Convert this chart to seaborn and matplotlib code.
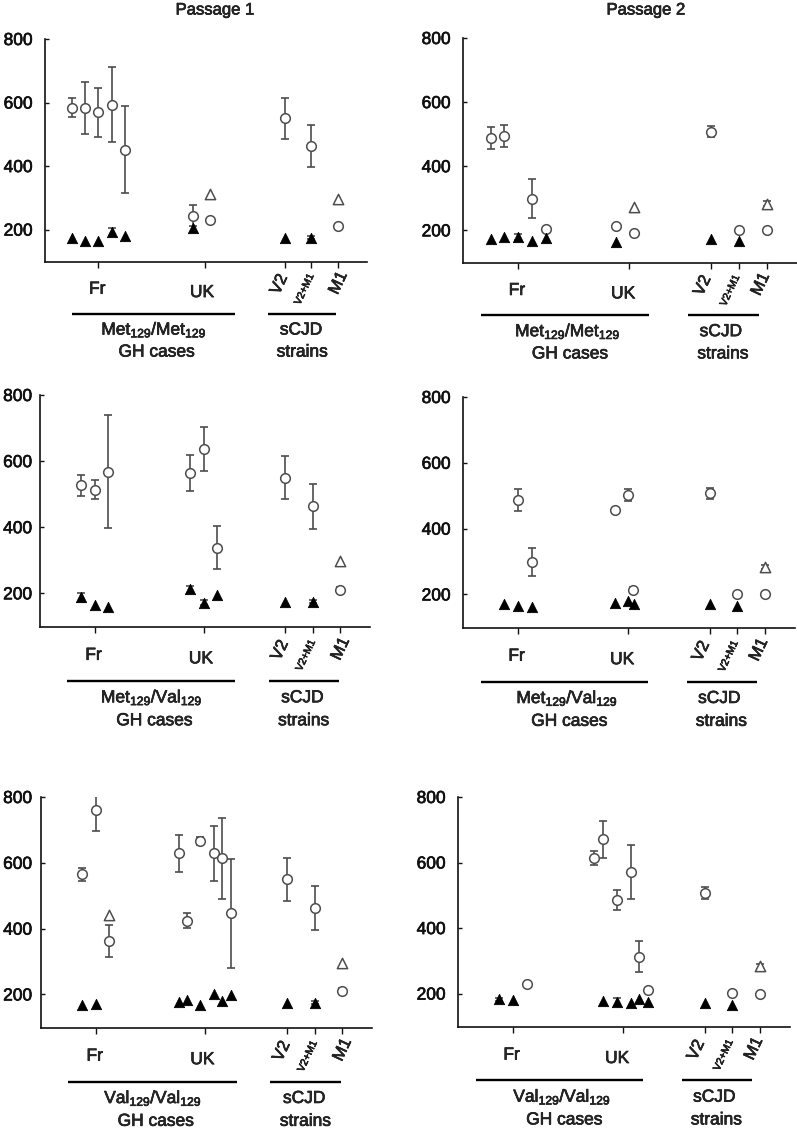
import matplotlib
matplotlib.use('Agg')
import matplotlib.pyplot as plt
import matplotlib.patheffects as pe
import matplotlib.transforms as mtransforms
import pandas as pd
import seaborn as sns

# ---- data ------------------------------------------------------------
# tick groups on the x axis
GROUP_LABELS = ['Fr', 'UK', 'V2', 'V2+M1', 'M1']
GROUP_X = [0, 4, 7, 8, 9]

# sCJD reference strains, passage 1 and passage 2
STRAIN_CIRC_X = [7, 8, 9]
STRAIN_TRI_X = [7, 8]
STRAIN_OPEN_X = [9]
P1_STRAIN_CIRC_Y = [550, 463, 211]
P1_STRAIN_CIRC_ERR = [65, 67, 8]
P1_STRAIN_TRI_Y = [175, 175]
P1_STRAIN_TRI_ERR = [0, 5]
P1_STRAIN_OPEN_Y = [297]
P1_STRAIN_OPEN_ERR = [0]
P2_STRAIN_CIRC_Y = [507, 201, 200]
P2_STRAIN_CIRC_ERR = [17, 0, 0]
P2_STRAIN_TRI_Y = [172, 166]
P2_STRAIN_TRI_ERR = [0, 0]
P2_STRAIN_OPEN_Y = [283]
P2_STRAIN_OPEN_ERR = [7]

# Met129/Met129, passage 1
mm1_circ_x = [-1, -0.5, 0, 0.5, 1, 3.55, 4.2]
mm1_circ_y = [584, 582, 569, 593, 452, 244, 229]
mm1_circ_err = [29, 82, 77, 118, 136, 32, 0]
mm1_tri_x = [-1, -0.5, 0, 0.5, 1, 3.55]
mm1_tri_y = [173, 163, 163, 193, 180, 205]
mm1_tri_err = [0, 0, 0, 12, 0, 0]
mm1_open_x = [4.2]
mm1_open_y = [313]

# Met129/Met129, passage 2
mm2_circ_x = [-1, -0.5, 0.5, 1, 3.55, 4.2]
mm2_circ_y = [487, 494, 299, 205, 213, 193]
mm2_circ_err = [34, 33, 61, 0, 0, 0]
mm2_tri_x = [-1, -0.5, 0, 0.5, 1, 3.55]
mm2_tri_y = [172, 180, 180, 167, 175, 164]
mm2_tri_err = [0, 0, 10, 0, 0, 0]
mm2_open_x = [4.2]
mm2_open_y = [273]

# Met129/Val129, passage 1
mv1_circ_x = [-0.5, 0, 0.5, 3.5, 4, 4.5]
mv1_circ_y = [527, 514, 568, 564, 637, 338]
mv1_circ_err = [32, 28, 171, 55, 67, 65]
mv1_tri_x = [-0.5, 0, 0.5, 3.5, 4, 4.5]
mv1_tri_y = [188, 166, 160, 212, 172, 196]
mv1_tri_err = [14, 0, 0, 10, 8, 0]
mv1_open_x = []
mv1_open_y = []

# Met129/Val129, passage 2
mv2_circ_x = [0, 0.5, 3.55, 4, 4.2]
mv2_circ_y = [487, 298, 456, 503, 213]
mv2_circ_err = [32, 42, 0, 18, 10]
mv2_tri_x = [-0.5, 0, 0.5, 3.55, 4, 4.25]
mv2_tri_y = [170, 166, 163, 175, 180, 170]
mv2_tri_err = [0, 0, 0, 0, 0, 0]
mv2_open_x = []
mv2_open_y = []

# Val129/Val129, passage 1
vv1_circ_x = [-0.5, 0, 0.5, 3.03, 3.32, 3.83, 4.32, 4.62, 4.94]
vv1_circ_y = [565, 762, 363, 629, 424, 667, 629, 614, 446]
vv1_circ_err = [19, 66, 49, 57, 22, 12, 83, 123, 166]
vv1_tri_x = [-0.5, 0, 3.03, 3.32, 3.83, 4.32, 4.62, 4.94]
vv1_tri_y = [167, 172, 178, 183, 167, 202, 180, 197]
vv1_tri_err = [0, 0, 0, 0, 0, 0, 0, 0]
vv1_open_x = [0.5]
vv1_open_y = [440]

# Val129/Val129, passage 2
vv2_circ_x = [0.5, 2.97, 3.3, 3.81, 4.3, 4.6, 4.91]
vv2_circ_y = [230, 614, 671, 485, 570, 313, 210]
vv2_circ_err = [0, 21, 57, 30, 82, 48, 8]
vv2_tri_x = [-0.5, 0, 3.3, 3.81, 4.3, 4.6, 4.91]
vv2_tri_y = [182, 180, 177, 175, 172, 183, 173]
vv2_tri_err = [6, 0, 0, 12, 0, 0, 0]
vv2_open_x = []
vv2_open_y = []

GENOTYPES = [r'Met$_{129}$/Met$_{129}$', r'Met$_{129}$/Val$_{129}$',
             r'Val$_{129}$/Val$_{129}$']
TITLES = ['Passage 1', 'Passage 2']

# ---- style -----------------------------------------------------------
sns.set_theme(style='ticks')
plt.rcParams['font.family'] = ['Liberation Sans', 'DejaVu Sans']
plt.rcParams['mathtext.fontset'] = 'custom'
plt.rcParams['mathtext.rm'] = 'Liberation Sans'
plt.rcParams['mathtext.it'] = 'Liberation Sans:italic'

EDGE = '#4d4d4d'
AXIS = '#111111'
W, H = 797, 1131
HEAVY = [pe.withStroke(linewidth=0.45, foreground='black')]

# axes boxes in pixels: left, top, right, bottom
BOXES = [[(45, 39, 367, 262), (463, 38, 797, 263)],
         [(40, 395, 370, 627), (463, 397, 795, 628)],
         [(41, 797, 372, 1028), (458, 797, 790, 1027)]]

# per-column placement of the under-axis labels (data x)
LABEL_X = [dict(Fr=-0.04, UK=3.9, V2=6.8, V2M1=7.74, M1=9.02,
                gh=(-1.0, 5.15), scjd=(6.38, 8.95), geno=2.1, cases=2.2,
                strain=7.62, strains=7.67),
           dict(Fr=-0.05, UK=3.8, V2=6.68, V2M1=7.67, M1=8.78,
                gh=(-1.33, 4.74), scjd=(6.15, 8.72), geno=1.8, cases=1.88,
                strain=7.34, strains=7.42)]


def strain_data(passage):
    if passage == 0:
        return (P1_STRAIN_CIRC_Y, P1_STRAIN_CIRC_ERR, P1_STRAIN_TRI_Y,
                P1_STRAIN_TRI_ERR, P1_STRAIN_OPEN_Y, P1_STRAIN_OPEN_ERR)
    return (P2_STRAIN_CIRC_Y, P2_STRAIN_CIRC_ERR, P2_STRAIN_TRI_Y,
            P2_STRAIN_TRI_ERR, P2_STRAIN_OPEN_Y, P2_STRAIN_OPEN_ERR)


def make_frames(case, passage):
    cy, ce, ty, te, oy, oe = strain_data(passage)
    circ = pd.DataFrame({'x': case[0] + STRAIN_CIRC_X,
                         'y': case[1] + cy, 'err': case[2] + ce})
    tri = pd.DataFrame({'x': case[3] + STRAIN_TRI_X,
                        'y': case[4] + ty, 'err': case[5] + te})
    opn = pd.DataFrame({'x': case[6] + STRAIN_OPEN_X,
                        'y': case[7] + oy,
                        'err': [0] * len(case[6]) + oe})
    return circ, tri, opn


def add_errorbars(ax, df):
    d = df[df['err'] > 0]
    if len(d):
        ax.errorbar(d['x'], d['y'], yerr=d['err'], fmt='none', ecolor=EDGE,
                    elinewidth=1.2, capsize=2.8, capthick=1.2, zorder=2)


def label(ax, x, y, s, tr, **kw):
    kw.setdefault('fontsize', 12.5)
    ax.text(x, y, s, ha='center', va='center', transform=tr,
            path_effects=HEAVY, **kw)


def draw_panel(ax, case, passage, row, ypad):
    circ, tri, opn = make_frames(case, passage)
    for df in (circ, tri, opn):
        add_errorbars(ax, df)
    sns.scatterplot(data=circ, x='x', y='y', marker='o', s=48, color='white',
                    edgecolor=EDGE, linewidth=1.1, ax=ax, zorder=3)
    sns.scatterplot(data=tri, x='x', y='y', marker='^', s=55, color='black',
                    edgecolor='black', linewidth=0.6, ax=ax, zorder=3)
    sns.scatterplot(data=opn, x='x', y='y', marker='^', s=55, color='white',
                    edgecolor=EDGE, linewidth=1.1, ax=ax, zorder=3)

    ax.set_xlim(-2, 10.1)
    ax.set_ylim(98, 800)
    ax.set_yticks([200, 400, 600, 800])
    ax.set_xticks(GROUP_X)
    ax.set_xticklabels([])
    ax.set_xlabel('')
    ax.set_ylabel('')
    ax.tick_params(axis='y', direction='in', length=3, width=1.0, pad=ypad,
                   labelsize=12.5, colors=AXIS)
    ax.tick_params(axis='x', direction='out', length=4, width=1.0,
                   colors=AXIS)
    for t in ax.get_yticklabels():
        t.set_path_effects(HEAVY)
    sns.despine(ax=ax)
    for side in ('left', 'bottom'):
        ax.spines[side].set_color(AXIS)
        ax.spines[side].set_linewidth(1.2)

    lx = LABEL_X[passage]
    tr = mtransforms.blended_transform_factory(ax.transData, ax.transAxes)
    label(ax, lx['Fr'], -0.122, 'Fr', tr)
    label(ax, lx['UK'], -0.137, 'UK', tr)
    label(ax, lx['V2'], -0.10, 'V2', tr, fontsize=12, rotation=65)
    label(ax, lx['V2M1'], -0.122, 'V2+M1', tr, fontsize=7.5, rotation=65)
    label(ax, lx['M1'], -0.094, 'M1', tr, fontsize=12, rotation=65)

    for x0, x1 in (lx['gh'], lx['scjd']):
        ax.plot([x0, x1], [-0.232, -0.232], color='black', lw=1.7,
                solid_capstyle='butt', transform=tr, clip_on=False)
    label(ax, lx['geno'], -0.305, GENOTYPES[row], tr)
    label(ax, lx['cases'], -0.404, 'GH cases', tr)
    label(ax, lx['strain'], -0.305, 'sCJD', tr)
    label(ax, lx['strains'], -0.404, 'strains', tr)


CASES = [[(mm1_circ_x, mm1_circ_y, mm1_circ_err, mm1_tri_x, mm1_tri_y,
           mm1_tri_err, mm1_open_x, mm1_open_y),
          (mm2_circ_x, mm2_circ_y, mm2_circ_err, mm2_tri_x, mm2_tri_y,
           mm2_tri_err, mm2_open_x, mm2_open_y)],
         [(mv1_circ_x, mv1_circ_y, mv1_circ_err, mv1_tri_x, mv1_tri_y,
           mv1_tri_err, mv1_open_x, mv1_open_y),
          (mv2_circ_x, mv2_circ_y, mv2_circ_err, mv2_tri_x, mv2_tri_y,
           mv2_tri_err, mv2_open_x, mv2_open_y)],
         [(vv1_circ_x, vv1_circ_y, vv1_circ_err, vv1_tri_x, vv1_tri_y,
           vv1_tri_err, vv1_open_x, vv1_open_y),
          (vv2_circ_x, vv2_circ_y, vv2_circ_err, vv2_tri_x, vv2_tri_y,
           vv2_tri_err, vv2_open_x, vv2_open_y)]]

fig = plt.figure(figsize=(W / 100, H / 100), dpi=100)
for row in range(3):
    for col in range(2):
        l, t, r, b = BOXES[row][col]
        ax = fig.add_axes([l / W, 1 - b / H, (r - l) / W, (b - t) / H])
        ypad = min(9.0, (l - 32) * 0.72)
        draw_panel(ax, CASES[row][col], col, row, ypad)

for x, title in zip((215, 646), TITLES):
    fig.text(x / W, 1 - 10 / H, title, ha='center', va='center',
             fontsize=12, path_effects=HEAVY)

fig.savefig('out.png', dpi=100, facecolor='white')
